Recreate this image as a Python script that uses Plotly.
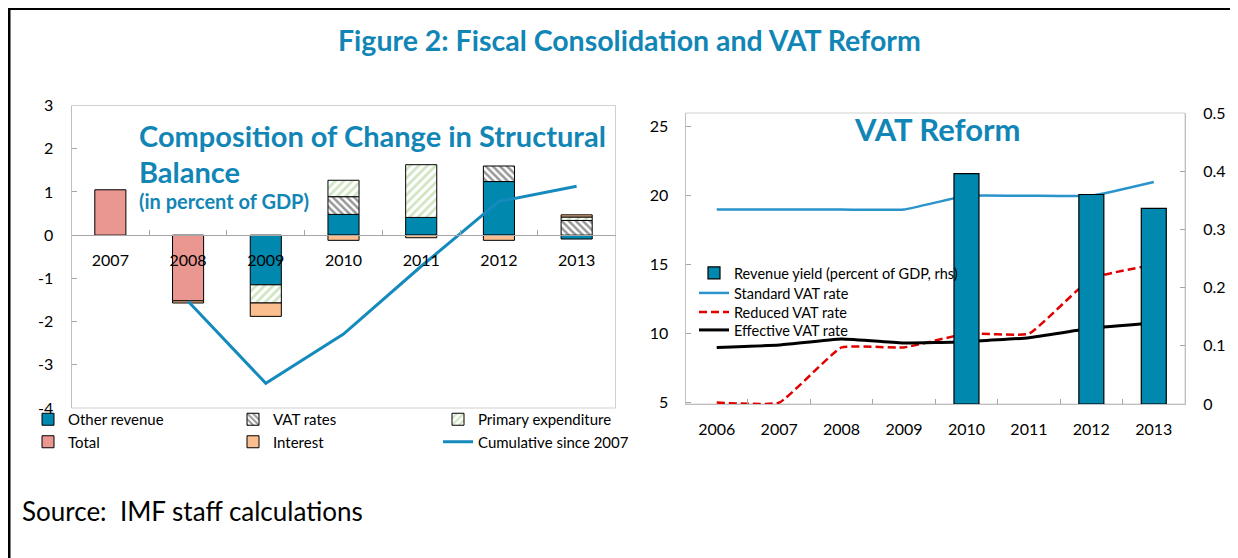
import plotly.graph_objects as go

# ---------------- data: left chart ----------------
years_left = ["2007", "2008", "2009", "2010", "2011", "2012", "2013"]
other_revenue = [None, None, -1.15, 0.48, 0.41, 1.24, -0.09]
vat_rates = [None, None, None, 0.41, None, 0.36, 0.34]
primary_exp = [None, None, -0.42, 0.38, 1.22, None, 0.08]
total = [1.05, -1.52, None, None, None, None, None]
interest = [None, -0.05, -0.31, -0.12, -0.06, -0.12, 0.05]
cumulative = [None, -1.53, -3.43, -2.29, -0.72, 0.78, 1.13]
left_tickvals = [-4, -3, -2, -1, 0, 1, 2, 3]
left_ticktext = ["-4", "-3", "-2", "-1", "0", "1", "2", "3"]

# ---------------- data: right chart ----------------
years_right = ["2006", "2007", "2008", "2009", "2010", "2011", "2012", "2013"]
revenue_yield = [None, None, None, None, 0.396, None, 0.360, 0.336]
standard_vat = [19, 19, 19, 19, 20, 20, 20, 21]
reduced_vat = [5, 5, 9, 9, 10, 10, 14, 15]
effective_vat = [9.0, 9.18, 9.62, 9.33, 9.42, 9.71, 10.39, 10.77]
rate_tickvals = [5, 10, 15, 20, 25]
yield_tickvals = [0, 0.1, 0.2, 0.3, 0.4, 0.5]

FONT = "Lato"
TEAL = "#0088AE"
TITLE_C = "#1186B6"
# page is drawn with an 8px body margin
OX, OY = 8, 8
W, H = 1230, 550


def px(x):
    return (x - OX) / W


def py(y):
    return 1 - (y - OY) / H


fig = go.Figure()

outline = dict(color="black", width=1)
fig.add_trace(go.Bar(x=years_left, y=other_revenue, name="Other revenue", width=0.4,
                     marker=dict(color=TEAL, line=outline), legend="legend"))
fig.add_trace(go.Bar(x=years_left, y=vat_rates, name="VAT rates", width=0.4,
                     marker=dict(color="white", line=outline,
                                 pattern=dict(shape="\\", fgcolor="#303030", bgcolor="white",
                                              size=5, solidity=0.5)), legend="legend2"))
fig.add_trace(go.Bar(x=years_left, y=primary_exp, name="Primary expenditure", width=0.4,
                     marker=dict(color="white", line=outline,
                                 pattern=dict(shape="/", fgcolor="#9FCB84", bgcolor="white",
                                              size=6, solidity=0.45)), legend="legend3"))
fig.add_trace(go.Bar(x=years_left, y=total, name="Total", width=0.4,
                     marker=dict(color="#EA9691", line=outline), legend="legend"))
fig.add_trace(go.Bar(x=years_left, y=interest, name="Interest", width=0.4,
                     marker=dict(color="#FBBE8E", line=outline), legend="legend2"))
fig.add_trace(go.Scatter(x=years_left, y=cumulative, name="Cumulative since 2007",
                         mode="lines", line=dict(color="#158ABD", width=3), legend="legend3"))

# right chart
fig.add_trace(go.Bar(x=years_right, y=revenue_yield, name="Revenue yield (percent of GDP, rhs)",
                     width=0.4, marker=dict(color=TEAL, line=dict(color="black", width=1.2)),
                     xaxis="x2", yaxis="y3", legend="legend4"))
fig.add_trace(go.Scatter(x=years_right, y=standard_vat, name="Standard VAT rate", mode="lines",
                         line=dict(color="#2A93CA", width=2.5, shape="spline", smoothing=0.35),
                         xaxis="x2", yaxis="y2", legend="legend5"))
fig.add_trace(go.Scatter(x=years_right, y=reduced_vat, name="Reduced VAT rate", mode="lines",
                         line=dict(color="#E00000", width=2.5, dash="8px,4px", shape="spline",
                                   smoothing=0.35),
                         xaxis="x2", yaxis="y2", legend="legend6"))
fig.add_trace(go.Scatter(x=years_right, y=effective_vat, name="Effective VAT rate", mode="lines",
                         line=dict(color="black", width=3, shape="spline", smoothing=0.35),
                         xaxis="x2", yaxis="y2", legend="legend7"))

# left plot area (page px)
lx0, lx1 = 71.5, 615.5
ly0, ly1 = 105.5, 408
ydom_l = [py(ly1), py(ly0)]
zero_pos = ydom_l[0] + (4 / 7) * (ydom_l[1] - ydom_l[0])

# right plot area (page px)
rx0, rx1 = 685.5, 1185
ry0, ry1 = 113, 404

axis_grey = "#A6A6A6"
tickf = dict(family=FONT, size=16, color="black")
legf = dict(family=FONT, size=15, color="black")


def col_legend(xpage):
    return dict(orientation="v", x=px(xpage), y=py(403), xanchor="left", yanchor="top",
                font=legf, bgcolor="rgba(0,0,0,0)", traceorder="normal", tracegroupgap=0)


def row_legend(ycenter):
    return dict(orientation="v", x=px(694), y=py(ycenter - 16), xanchor="left", yanchor="top",
                font=dict(family=FONT, size=14.5, color="black"),
                bgcolor="rgba(0,0,0,0)")


fig.update_layout(
    width=W, height=H,
    margin=dict(l=0, r=0, t=0, b=0),
    paper_bgcolor="white", plot_bgcolor="white",
    barmode="relative",
    font=dict(family=FONT, color="black"),
    showlegend=True,
    xaxis=dict(domain=[px(lx0), px(lx1)], anchor="free", position=zero_pos, type="category",
               range=[-0.5, 6.5], tickson="boundaries", ticks="inside", ticklen=5,
               tickcolor=axis_grey, showline=True, linecolor=axis_grey, linewidth=1,
               showgrid=False, zeroline=False, tickfont=tickf, ticklabelstandoff=11,
               automargin=False),
    yaxis=dict(domain=ydom_l, anchor="x", range=[-4, 3], tickvals=left_tickvals,
               ticktext=left_ticktext, ticks="inside", ticklen=5,
               tickcolor=axis_grey, showline=True, linecolor="#BFBFBF", showgrid=False,
               zeroline=False, tickfont=tickf, ticklabelstandoff=14, automargin=False),
    xaxis2=dict(domain=[px(rx0), px(rx1)], anchor="y2", type="category", range=[-0.5, 7.5],
                tickson="boundaries", ticks="inside", ticklen=5, tickcolor=axis_grey,
                showline=True, linecolor="#BFBFBF", showgrid=False, zeroline=False,
                tickfont=tickf, ticklabelstandoff=11, automargin=False),
    yaxis2=dict(domain=[py(ry1), py(ry0)], anchor="x2", range=[4.9, 26],
                tickvals=rate_tickvals, ticks="inside", ticklen=5, tickcolor=axis_grey,
                showline=True, linecolor="#BFBFBF", showgrid=False, zeroline=False,
                tickfont=tickf, ticklabelstandoff=13, automargin=False),
    yaxis3=dict(overlaying="y2", side="right", anchor="x2", range=[0, 0.5],
                tickvals=yield_tickvals,
                ticks="inside", ticklen=5, tickcolor=axis_grey, showline=True,
                linecolor="#BFBFBF", showgrid=False, zeroline=False, tickfont=tickf,
                ticklabelstandoff=14, automargin=False),
    legend=col_legend(28),
    legend2=col_legend(233),
    legend3=col_legend(438),
    legend4=row_legend(273),
    legend5=row_legend(293),
    legend6=row_legend(312),
    legend7=row_legend(330),
)

shapes = [
    # figure frame (top & left)
    dict(type="line", xref="paper", yref="paper", x0=px(7), x1=1, y0=py(8.5), y1=py(8.5),
         line=dict(color="black", width=3)),
    dict(type="line", xref="paper", yref="paper", x0=px(9), x1=px(9), y0=py(7), y1=0,
         line=dict(color="black", width=3)),
    # plot-area borders
    dict(type="rect", xref="x domain", yref="y domain", x0=0, x1=1, y0=0, y1=1,
         line=dict(color="#D0D0D0", width=1), layer="below"),
    dict(type="rect", xref="x2 domain", yref="y2 domain", x0=0, x1=1, y0=0, y1=1,
         line=dict(color="#D0D0D0", width=1), layer="below"),
]

annotations = [
    dict(text="<b>Figure 2: Fiscal Consolidation and VAT Reform</b>", x=px(629), y=py(40),
         xref="paper", yref="paper", xanchor="center", yanchor="middle", showarrow=False,
         font=dict(family=FONT, size=28.5, color=TITLE_C)),
    dict(text="<b>Composition of Change in Structural</b>", x=px(137), y=py(135),
         xref="paper", yref="paper", xanchor="left", yanchor="middle", showarrow=False,
         font=dict(family=FONT, size=29, color=TITLE_C)),
    dict(text="<b>Balance</b>", x=px(137), y=py(171),
         xref="paper", yref="paper", xanchor="left", yanchor="middle", showarrow=False,
         font=dict(family=FONT, size=29, color=TITLE_C)),
    dict(text="<b>(in percent of GDP)</b>", x=px(137), y=py(201),
         xref="paper", yref="paper", xanchor="left", yanchor="middle", showarrow=False,
         font=dict(family=FONT, size=20, color=TITLE_C)),
    dict(text="<b>VAT Reform</b>", x=px(937), y=py(129),
         xref="paper", yref="paper", xanchor="center", yanchor="middle", showarrow=False,
         font=dict(family=FONT, size=31, color=TITLE_C)),
    dict(text="Source:  IMF staff calculations", x=px(20), y=py(511),
         xref="paper", yref="paper", xanchor="left", yanchor="middle", showarrow=False,
         font=dict(family=FONT, size=26, color="black")),
]

fig.update_layout(shapes=shapes, annotations=annotations)

fig.write_html("out.html")
